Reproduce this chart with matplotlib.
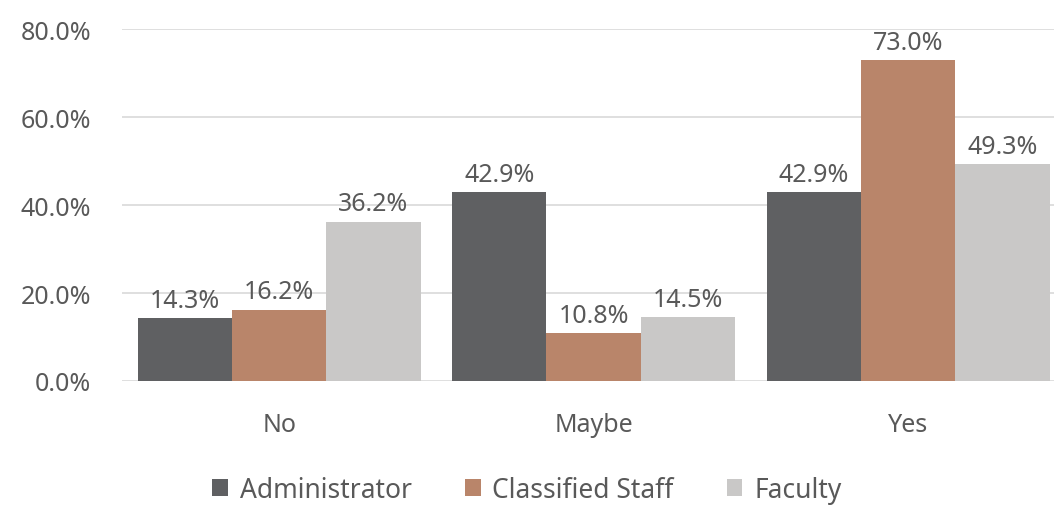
import numpy as np
import matplotlib.pyplot as plt

categories = ["No", "Maybe", "Yes"]
series_names = ["Administrator", "Classified Staff", "Faculty"]
administrator = [14.3, 42.9, 42.9]
classified_staff = [16.2, 10.8, 73.0]
faculty = [36.2, 14.5, 49.3]
colors = ["#5f6062", "#b9856a", "#c9c8c7"]

plt.rcParams["font.family"] = ["Noto Sans", "DejaVu Sans"]
text_color = "#595959"
fs = 18

fig = plt.figure(figsize=(10.54, 5.06), dpi=100)
ax = fig.add_axes([122 / 1054, 124 / 506, (1054 - 122) / 1054, 352 / 506])

x = np.arange(len(categories))
w = 0.3
for i, (vals, name, c) in enumerate(zip([administrator, classified_staff, faculty], series_names, colors)):
    pos = x + (i - 1) * w
    ax.bar(pos, vals, width=w, color=c, label=name, zorder=2)
    for xp, v in zip(pos, vals):
        ax.text(xp, v + 1.2, f"{v:.1f}%", ha="center", va="bottom",
                fontsize=fs, color=text_color)

ax.set_ylim(0, 80)
ax.set_xlim(-0.5, 2.464)
ax.set_yticks([0, 20, 40, 60, 80])
ax.set_yticklabels([f"{t:.1f}%" for t in [0, 20, 40, 60, 80]])
ax.set_xticks(x)
ax.set_xticklabels(categories)
ax.tick_params(axis="both", length=0, labelsize=fs, colors=text_color)
ax.tick_params(axis="y", pad=22)
ax.tick_params(axis="x", pad=22)
ax.grid(axis="y", color="#d9d9d9", linewidth=1.2, zorder=0)
for s in ax.spines.values():
    s.set_visible(False)

fig.legend(loc="lower center", bbox_to_anchor=(0.5, -0.045), ncol=3, frameon=False,
           fontsize=19, labelcolor=text_color, handlelength=0.6, handleheight=0.6,
           handletextpad=0.45, columnspacing=2.0)

fig.savefig("out.png", dpi=100)
